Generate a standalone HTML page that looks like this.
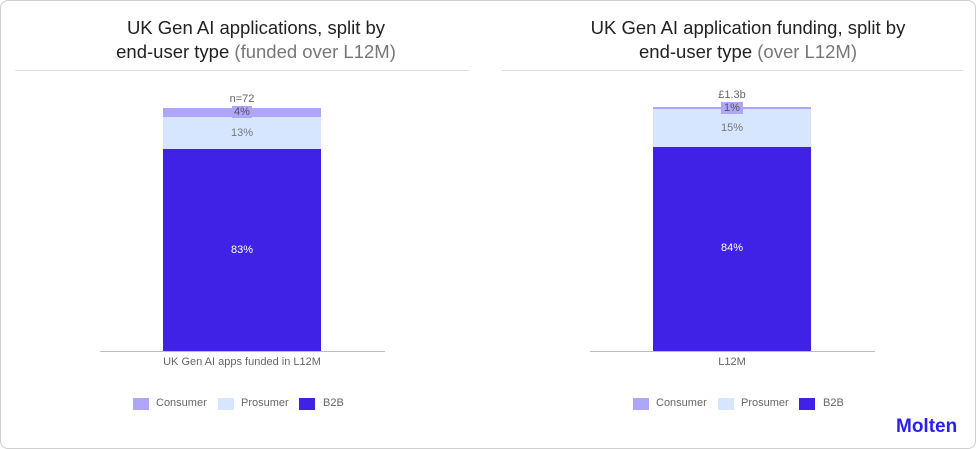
<!DOCTYPE html>
<html><head><meta charset="utf-8"><style>
*{margin:0;padding:0;box-sizing:border-box}
body{width:976px;height:449px;background:#fff;font-family:"Liberation Sans",sans-serif;position:relative;overflow:hidden}
.a{position:absolute}
.frame{left:0;top:0;width:976px;height:449px;border:1px solid #cfcfcf;border-radius:8px}
.title{font-size:18.5px;color:#222;text-align:center;line-height:24px;width:480px}
.title span{color:#777}
.sep{height:1px;background:#dcdcdc;top:70px}
.t{font-size:11px;color:#666;text-align:center}
.sq{width:16px;height:12px;top:398px}
.lg{font-size:11px;color:#666;top:397px}
</style></head><body>
<div class="a frame"></div>
<div class="a title" style="left:16px;top:16px">UK Gen AI applications, split by<br>end-user type <span>(funded over L12M)</span></div>
<div class="a title" style="left:508px;top:16px">UK Gen AI application funding, split by<br>end-user type <span>(over L12M)</span></div>
<div class="a sep" style="left:15px;width:454px"></div>
<div class="a sep" style="left:502px;width:461px"></div>

<!-- left chart -->
<div class="a" style="left:163px;top:108px;width:158px;height:9px;background:#aea6f8"></div>
<div class="a" style="left:163px;top:117px;width:158px;height:32px;background:#d6e6ff"></div>
<div class="a" style="left:163px;top:149px;width:158px;height:202px;background:#3f22e5"></div>
<div class="a" style="left:100px;top:351px;width:285px;height:1px;background:#bdbdbd"></div>
<div class="a t" style="left:192px;top:93px;width:100px">n=72</div>
<div class="a t" style="left:232px;top:106px;width:20px;background:#aea6f8;color:#555">4%</div>
<div class="a t" style="left:192px;top:127px;width:100px;color:#777">13%</div>
<div class="a t" style="left:192px;top:244px;width:100px;color:#fff">83%</div>
<div class="a t" style="left:142px;top:356px;width:200px">UK Gen AI apps funded in L12M</div>
<div class="a sq" style="left:133px;background:#aea6f8"></div><div class="a lg" style="left:156px">Consumer</div>
<div class="a sq" style="left:218px;background:#d6e6ff"></div><div class="a lg" style="left:241px">Prosumer</div>
<div class="a sq" style="left:299px;background:#3f22e5"></div><div class="a lg" style="left:323px">B2B</div>

<!-- right chart -->
<div class="a" style="left:653px;top:107px;width:158px;height:2px;background:#aea6f8"></div>
<div class="a" style="left:653px;top:109px;width:158px;height:38px;background:#d6e6ff"></div>
<div class="a" style="left:653px;top:147px;width:158px;height:204px;background:#3f22e5"></div>
<div class="a" style="left:590px;top:351px;width:285px;height:1px;background:#bdbdbd"></div>
<div class="a t" style="left:682px;top:89px;width:100px">£1.3b</div>
<div class="a t" style="left:721px;top:102px;width:22px;background:#aea6f8;color:#555">1%</div>
<div class="a t" style="left:682px;top:122px;width:100px;color:#777">15%</div>
<div class="a t" style="left:682px;top:242px;width:100px;color:#fff">84%</div>
<div class="a t" style="left:682px;top:356px;width:100px">L12M</div>
<div class="a sq" style="left:633px;background:#aea6f8"></div><div class="a lg" style="left:656px">Consumer</div>
<div class="a sq" style="left:718px;background:#d6e6ff"></div><div class="a lg" style="left:741px">Prosumer</div>
<div class="a sq" style="left:799px;background:#3f22e5"></div><div class="a lg" style="left:823px">B2B</div>

<div class="a" style="left:896px;top:416px;font-size:19px;color:#2a1ff0;font-weight:bold">Molten</div>
</body></html>
